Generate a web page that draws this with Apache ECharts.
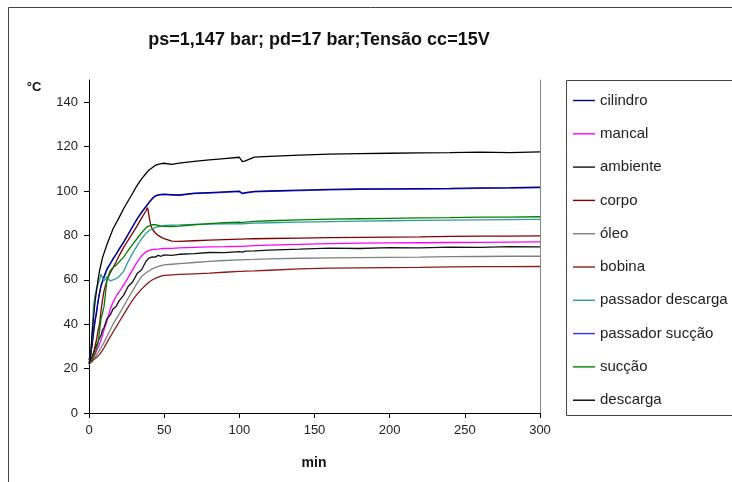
<!DOCTYPE html>
<html>
<head>
<meta charset="utf-8">
<script src="https://cdn.jsdelivr.net/npm/echarts@6/dist/echarts.min.js"></script>
<style>
html,body{margin:0;padding:0;background:#fff;}
#chart{width:732px;height:482px;}
</style>
</head>
<body>
<div id="chart"></div>
<script>
// ---- data ----
const titleText = 'ps=1,147 bar; pd=17 bar;Tensão cc=15V';
const xTitle = 'min';
const yTitle = '°C';
const seriesNames = ['cilindro','mancal','ambiente','corpo','óleo','bobina','passador descarga','passador sucção','sucção','descarga'];
const seriesColors = ['#000080','#FF00FF','#111111','#800000','#808080','#8B1A1A','#339999','#3333FF','#008000','#000000'];
const yTicks = [0,20,40,60,80,100,120,140];
const xTicks = [0,50,100,150,200,250,300];

const minutes = [0,1,2,3,4,5,6,7,8,9,10,12,14,16,18,20,23,26,29,32,35,38,39,40,41,42,44,46,48,50,55,60,70,80,90,100,102,104,110,120,140,160,180,200,220,240,260,280,300];

const cilindro = [24,24,30,36,41,45,50,54,57.5,59.5,61.5,65,67.2,69.5,71.5,73.8,77,80.5,84,87.5,90.5,93.2,94,95,95.8,96.6,97.8,98.3,98.5,98.6,98.4,98.2,99,99.3,99.6,99.9,98.9,99.3,99.8,100,100.4,100.7,100.9,101,101.1,101.2,101.4,101.5,101.7];
const mancal = [23,23,24,25,26.5,28,29.5,31,33,35,37.5,41.5,46.5,50,52.5,54.4,57.6,61,64.5,68,70.8,72.6,73,73.3,73.5,73.6,73.7,73.8,74,74.1,74.2,74.4,74.6,74.8,74.9,75.1,75.1,75.2,75.4,75.6,76,76.3,76.5,76.6,76.7,76.8,76.9,77,77.1];
const ambiente = [23,23.5,25,27,29,30.5,32,33.8,35,37.5,38.5,42.5,44,46.8,48,50.5,53,57,59,62.8,64.5,68.5,67.8,69.8,69.2,70.3,70.2,71,70.6,71.2,71,71.5,71.8,72.3,72.2,72.7,72.5,72.9,73,73.4,73.8,74.3,74.1,74.5,74.4,74.7,74.6,74.9,74.8];
const corpo = [23,24,25,27,30,33,37,40,46,51,55,60,63,65.5,68,70.8,74.5,77.8,81,84.3,87.8,91.2,92.5,88.5,84.8,83,81.2,80,79.2,78.5,77.4,77.3,77.6,77.9,78.1,78.3,78.3,78.4,78.5,78.6,78.8,79,79.1,79.2,79.3,79.6,79.7,79.7,79.8];
const oleo = [22,22.3,23,24,25,26.2,27.2,28.3,29.4,30.5,31.8,34.5,37.3,40,42.3,44.5,48,51.7,55,58.5,61.5,63.2,63.7,64.1,64.5,64.9,65.5,66,66.4,66.7,67,67.3,67.8,68.3,68.7,69,69,69.1,69.2,69.4,69.7,69.9,70,70.1,70.2,70.4,70.5,70.6,70.6];
const bobina = [22,23,23.5,24,24.5,25,25.6,26.3,27.2,28.3,29.4,31.8,34.2,36.5,38.7,41,44.3,47.7,50.8,53.5,55.8,57.8,58.4,59,59.5,59.9,60.6,61.2,61.6,62,62.2,62.4,62.7,63,63.4,63.8,63.8,63.9,64,64.3,64.9,65.3,65.4,65.5,65.6,65.8,65.9,65.9,66];
const passadorDescarga = [24,25,35,48,53,56,58,60,62.5,63,59.5,61.5,59.5,60,60.5,61.5,63.8,68.2,72,75.3,78.5,81,81.6,82.2,82.6,83,83.5,83.9,84.2,84.5,84.6,84.7,85,85.1,85.2,85.3,85.2,85.3,85.5,85.7,86,86.2,86.4,86.6,86.8,86.9,87,87.1,87.2];
const passadorSuccao = [24,25,31,37,42,46,50.5,54,57,59,61,64.6,67,69.3,71.4,73.6,76.8,80.3,83.8,87.3,90.3,93,93.8,94.8,95.6,96.4,97.6,98.1,98.3,98.4,98.2,98,98.8,99.1,99.4,99.7,98.8,99.1,99.6,99.8,100.2,100.5,100.7,100.8,100.9,101,101.2,101.3,101.5];
const succao = [23,23,24,25.5,27,29,31.5,37,42.5,45,48,60,64,65.5,66.6,68,70.2,73.2,76,78.6,81.2,83.5,84,84.3,84.6,84.8,84.8,84.5,84.2,84.1,84,84.2,84.8,85.3,85.7,86,85.8,86,86.3,86.6,87,87.3,87.5,87.7,87.9,88,88.2,88.2,88.4];
const descarga = [22,25,35,43,50,55,60,64,67,70,72,76,79.5,83,85.5,88,92,95.5,99,102.5,105.5,108,108.5,109.5,110,110.5,111.5,112,112.3,112.5,112,112.6,113.3,114,114.6,115.2,113.2,113.6,115.3,115.6,116.2,116.6,116.8,117,117.2,117.3,117.5,117.3,117.6];

const seriesValues = [cilindro, mancal, ambiente, corpo, oleo, bobina, passadorDescarga, passadorSuccao, succao, descarga];

// ---- chart ----
const FONT = '"Liberation Sans", Arial, sans-serif';
const chart = echarts.init(document.getElementById('chart'), null, {renderer:'canvas'});

const series = seriesNames.map((name, i) => ({
  name: name,
  type: 'line',
  data: minutes.map((t, k) => [t, seriesValues[i][k]]),
  symbol: 'none',
  showSymbol: false,
  smooth: false,
  z: name === 'passador sucção' ? 1 : 2 + i,
  lineStyle: {color: seriesColors[i], width: 1.3},
  itemStyle: {color: seriesColors[i]},
  emphasis: {disabled: true}
}));

chart.setOption({
  animation: false,
  backgroundColor: '#ffffff',
  textStyle: {fontFamily: FONT},
  grid: {left: 89, right: 192, top: 80, bottom: 69, containLabel: false},
  xAxis: {
    type: 'value', min: 0, max: 300, interval: 50,
    axisLine: {show: true, lineStyle: {color: '#000', width: 1}},
    axisTick: {show: true, inside: false, length: 5, lineStyle: {color: '#000'}},
    axisLabel: {fontSize: 13, color: '#222', margin: 11, fontFamily: FONT, customValues: xTicks},
    splitLine: {show: false}
  },
  yAxis: [{
    type: 'value', min: 0, max: 150, interval: 20,
    axisLine: {show: true, lineStyle: {color: '#000', width: 1}},
    axisTick: {show: true, inside: false, length: 5, lineStyle: {color: '#000'}, customValues: yTicks},
    axisLabel: {fontSize: 13, color: '#222', margin: 11, fontFamily: FONT, customValues: yTicks},
    splitLine: {show: false}
  }, {
    type: 'value', min: 0, max: 150, position: 'right',
    axisLine: {show: true, lineStyle: {color: '#888', width: 1}},
    axisTick: {show: false}, axisLabel: {show: false}, splitLine: {show: false}
  }],
  legend: {
    orient: 'vertical',
    left: 573, top: 93, padding: 0,
    itemWidth: 22, itemHeight: 14, itemGap: 18.3,
    icon: 'path://M0,0 L22,0 L22,1.4 L0,1.4 Z',
    textStyle: {fontSize: 15, lineHeight: 14, color: '#222', fontFamily: FONT, padding: [0,0,0,0]},
    selectedMode: false,
    data: seriesNames
  },
  graphic: [
    {type: 'rect', silent: true, shape: {x: 8.5, y: 7.5, width: 900, height: 700}, style: {fill: 'none', stroke: '#444', lineWidth: 1}, z: -10},
    {type: 'rect', silent: true, shape: {x: 566.5, y: 80.5, width: 300, height: 335}, style: {fill: 'none', stroke: '#444', lineWidth: 1}, z: -10},
    {type: 'text', silent: true, style: {x: 319, y: 40, text: titleText, font: 'bold 18px ' + FONT, fill: '#111', textAlign: 'center', textVerticalAlign: 'middle'}},
    {type: 'text', silent: true, style: {x: 34, y: 87, text: yTitle, font: 'bold 13px ' + FONT, fill: '#111', textAlign: 'center', textVerticalAlign: 'middle'}},
    {type: 'text', silent: true, style: {x: 314, y: 463, text: xTitle, font: 'bold 14px ' + FONT, fill: '#111', textAlign: 'center', textVerticalAlign: 'middle'}}
  ],
  series: series
});
</script>
</body>
</html>
